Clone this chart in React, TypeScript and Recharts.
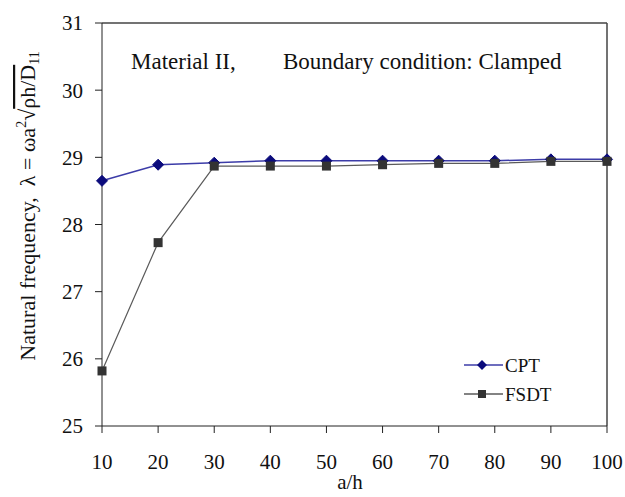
import {
  CartesianGrid,
  Customized,
  Line,
  LineChart,
  ReferenceLine,
  XAxis,
  YAxis,
} from "recharts";

const ratios = [10, 20, 30, 40, 50, 60, 70, 80, 90, 100];
const cptValues = [28.65, 28.89, 28.92, 28.95, 28.95, 28.95, 28.95, 28.95, 28.97, 28.97];
const fsdtValues = [25.82, 27.73, 28.87, 28.87, 28.87, 28.89, 28.91, 28.91, 28.94, 28.94];
const xTicks = [10, 20, 30, 40, 50, 60, 70, 80, 90, 100];
const yTicks = [25, 26, 27, 28, 29, 30, 31];
const seriesNames = ["CPT", "FSDT"];

const FONT = "Liberation Serif";
const CPT_COLOR = "#0b0b7c";
const CPT_LINE = "#3c3ca8";
const FSDT_COLOR = "#333333";
const FSDT_LINE = "#5a5a5a";

const data = ratios.map((r, i) => ({ ah: r, cpt: cptValues[i], fsdt: fsdtValues[i] }));

const diamondPath = (cx: number, cy: number, s: number) =>
  `M${cx},${cy - s}L${cx + s},${cy}L${cx},${cy + s}L${cx - s},${cy}Z`;

const Diamond = (props: any) => {
  const { cx, cy } = props;
  if (cx == null || cy == null) return null;
  return <path d={diamondPath(cx, cy, 5.5)} fill={CPT_COLOR} stroke={CPT_COLOR} />;
};

const Square = (props: any) => {
  const { cx, cy } = props;
  if (cx == null || cy == null) return null;
  const s = 4.5;
  return <rect x={cx - s} y={cy - s} width={2 * s} height={2 * s} fill={FSDT_COLOR} />;
};

const YTitle = () => (
  <text
    x={0}
    y={0}
    transform="translate(35, 206) rotate(-90)"
    textAnchor="middle"
    style={{ fontFamily: FONT }}
    fontSize={22}
    fill="#111"
  >
    <tspan>Natural frequency,{"\u00a0\u00a0"}λ = ωa</tspan>
    <tspan dy={-9} fontSize={14}>2</tspan>
    <tspan dy={9}>√</tspan>
    <tspan style={{ textDecoration: "overline" }}>ρh/D</tspan>
    <tspan dy={4} fontSize={14}>11</tspan>
  </text>
);

// legend drawn in svg so it doesn't steal space from the plot
const LegendMarks = () => {
  const rows = [
    { line: CPT_LINE, y: 365 },
    { line: FSDT_LINE, y: 394 },
  ];
  return (
    <g style={{ fontFamily: FONT }} fontSize={19} fill="#111">
      {rows.map((r, i) => (
        <g key={seriesNames[i]}>
          <line x1={464} y1={r.y} x2={503} y2={r.y} stroke={r.line} strokeWidth={1.3} />
          {i === 0 ? (
            <path d={diamondPath(482, r.y, 5)} fill={CPT_COLOR} />
          ) : (
            <rect x={478} y={r.y - 4} width={8} height={8} fill={FSDT_COLOR} />
          )}
          <text x={505} y={r.y + 6.5}>{seriesNames[i]}</text>
        </g>
      ))}
    </g>
  );
};

const Titles = () => (
  <g style={{ fontFamily: FONT }} fill="#111">
    <text x={131} y={69} fontSize={23}>Material II,</text>
    <text x={283} y={69} fontSize={23}>Boundary condition: Clamped</text>
    <text x={350} y={489} fontSize={21} textAnchor="middle">a/h</text>
    <YTitle />
    <LegendMarks />
  </g>
);

const tickStyle = { fontFamily: FONT, fontSize: 21, fill: "#111" };

export default function App() {
  return (
    <div style={{ position: "absolute", left: 0, top: 0, background: "#fff", fontFamily: FONT }}>
      <LineChart
        width={625}
        height={497}
        data={data}
        margin={{ top: 23, right: 18, left: 0, bottom: 0 }}
        style={{ fontFamily: FONT }}
      >
        <CartesianGrid horizontal={false} vertical={false} />
        <XAxis
          dataKey="ah"
          type="number"
          domain={[10, 100]}
          ticks={xTicks}
          height={71}
          tickSize={7}
          tickMargin={21}
          axisLine={{ stroke: "#222" }}
          tickLine={{ stroke: "#222" }}
          tick={tickStyle}
        />
        <YAxis
          type="number"
          domain={[25, 31]}
          ticks={yTicks}
          width={102}
          tickSize={7}
          tickMargin={12}
          axisLine={{ stroke: "#222" }}
          tickLine={{ stroke: "#222" }}
          tick={tickStyle}
        />
        <ReferenceLine y={31} stroke="#444" strokeWidth={1.5} />
        <ReferenceLine x={100} stroke="#444" strokeWidth={1.5} />
        <Line
          dataKey="cpt"
          name={seriesNames[0]}
          stroke={CPT_LINE}
          strokeWidth={1.5}
          dot={<Diamond />}
          isAnimationActive={false}
        />
        <Line
          dataKey="fsdt"
          name={seriesNames[1]}
          stroke={FSDT_LINE}
          strokeWidth={1.2}
          dot={<Square />}
          isAnimationActive={false}
        />
        <Customized component={<Titles />} />
      </LineChart>
    </div>
  );
}
